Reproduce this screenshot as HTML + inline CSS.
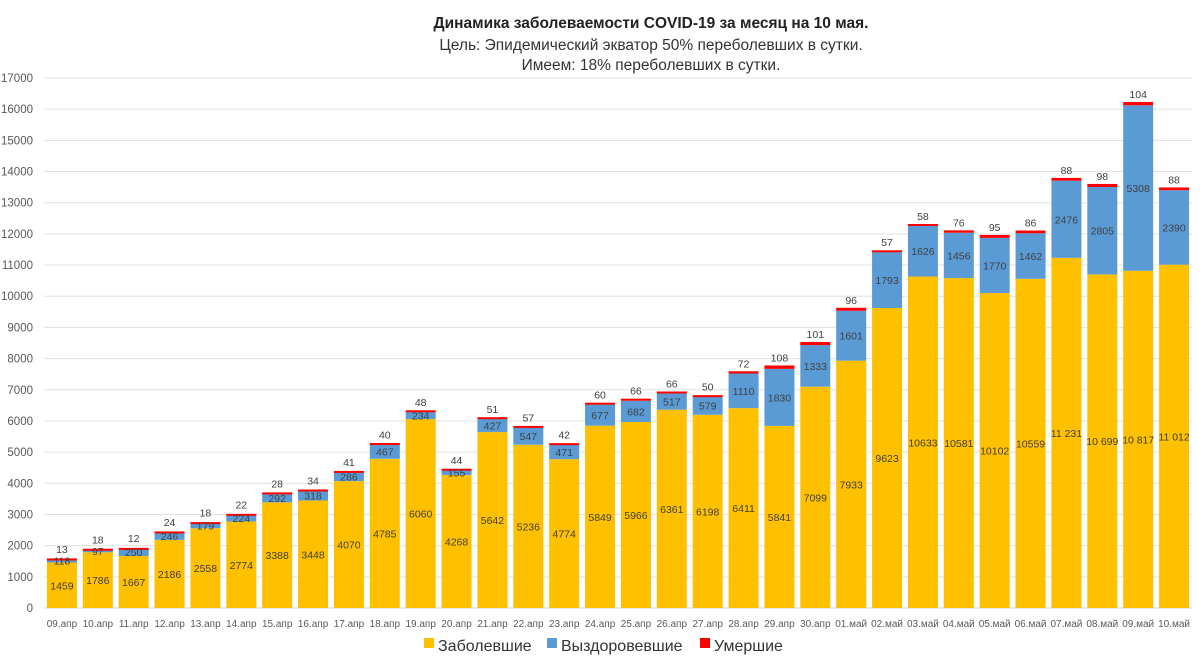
<!DOCTYPE html>
<html><head><meta charset="utf-8"><style>
body{margin:0;background:#fff;width:1200px;height:660px;overflow:hidden;font-family:"Liberation Sans","DejaVu Sans",sans-serif}
svg text{font-family:"Liberation Sans","DejaVu Sans",sans-serif}
</style></head><body>
<svg id="chart" width="1200" height="660" xmlns="http://www.w3.org/2000/svg">
<g text-anchor="middle" fill="#222">
<text x="651" y="28" font-size="15.5" font-weight="bold">Динамика заболеваемости COVID-19 за месяц на 10 мая.</text>
<text x="651" y="50" font-size="15.5" fill="#333">Цель: Эпидемический экватор 50% переболевших в сутки.</text>
<text x="651" y="70" font-size="15.5" fill="#333">Имеем: 18% переболевших в сутки.</text>
</g>
<g id="grid"></g><g id="bars"></g><g id="labels"></g>
<g font-size="16" fill="#333">
<rect x="424" y="638" width="10" height="10" fill="#FFC000"/><text x="438" y="651">Заболевшие</text>
<rect x="547" y="638" width="10" height="10" fill="#5B9BD5"/><text x="561" y="651">Выздоровевшие</text>
<rect x="700" y="638" width="10" height="10" fill="#FF0000"/><text x="714" y="651">Умершие</text>
</g>
</svg>
<script>
const categories=["09.апр","10.апр","11.апр","12.апр","13.апр","14.апр","15.апр","16.апр","17.апр","18.апр","19.апр","20.апр","21.апр","22.апр","23.апр","24.апр","25.апр","26.апр","27.апр","28.апр","29.апр","30.апр","01.май","02.май","03.май","04.май","05.май","06.май","07.май","08.май","09.май","10.май"];
const sick=[1459,1786,1667,2186,2558,2774,3388,3448,4070,4785,6060,4268,5642,5236,4774,5849,5966,6361,6198,6411,5841,7099,7933,9623,10633,10581,10102,10559,11231,10699,10817,11012];
const recovered=[118,97,250,246,179,224,292,318,286,467,234,155,427,547,471,677,682,517,579,1110,1830,1333,1601,1793,1626,1456,1770,1462,2476,2805,5308,2390];
const dead=[13,18,12,24,18,22,28,34,41,40,48,44,51,57,42,60,66,66,50,72,108,101,96,57,58,76,95,86,88,98,104,88];
const yTicks=[0,1000,2000,3000,4000,5000,6000,7000,8000,9000,10000,11000,12000,13000,14000,15000,16000,17000];
const NS="http://www.w3.org/2000/svg";
const x0=44,x1=1192,y0=608,yMax=17000,yTop=78;
const step=(x1-x0)/categories.length,bw=30;
const y=v=>y0-(v/yMax)*(y0-yTop);
const xc=i=>x0+step*(i+0.5);
const fmt=(v,i)=>i>=28?String(v).replace(/(\d+)(\d{3})$/,'$1 $2'):String(v);
function mk(tag,attrs,parent){const e=document.createElementNS(NS,tag);for(const k in attrs)e.setAttribute(k,attrs[k]);parent.appendChild(e);return e;}
const grid=document.getElementById('grid'),bars=document.getElementById('bars'),labels=document.getElementById('labels');
yTicks.forEach(t=>{
 const l=mk('line',{x1:x0,x2:x1,y1:y(t),y2:y(t),stroke:t===0?'#d0d0d0':'#e0e0e0','stroke-width':1},grid);
 
 
 const tx=mk('text',{x:33,y:y(t)+4,'text-anchor':'end','font-size':11.5,fill:'#595959'},grid);
 tx.textContent=t;
 
 
});
categories.forEach((c,i)=>{
 const cx=xc(i),bx=cx-bw/2;
 const ys=y(sick[i]),yr=y(sick[i]+recovered[i]),yd=y(sick[i]+recovered[i]+dead[i]);
 const r1=mk('rect',{x:bx,y:ys,width:bw,height:y0-ys,fill:'#FFC000'},bars);
 
 
 const r2=mk('rect',{x:bx,y:yr,width:bw,height:ys-yr,fill:'#5B9BD5'},bars);
 
 
 const r3=mk('rect',{x:bx,y:yd,width:bw,height:Math.max(yr-yd,2),fill:'#FF0000'},bars);
 
 
 const t1=mk('text',{x:cx,y:(ys+y0)/2+4,'text-anchor':'middle','font-size':10.5,fill:'#404040'},labels);
 t1.textContent=fmt(sick[i],i);
 
 
 const t2=mk('text',{x:cx,y:(yr+ys)/2+4,'text-anchor':'middle','font-size':10.5,fill:'#404040'},labels);
 t2.textContent=recovered[i];
 
 
 const t3=mk('text',{x:cx,y:Math.min(yd,yr-2)-4,'text-anchor':'middle','font-size':10.5,fill:'#404040'},labels);
 t3.textContent=dead[i];
 
 
 const tc=mk('text',{x:cx,y:627,'text-anchor':'middle','font-size':10,fill:'#595959'},labels);
 tc.textContent=c;
 
 
});
</script>
</body></html>
